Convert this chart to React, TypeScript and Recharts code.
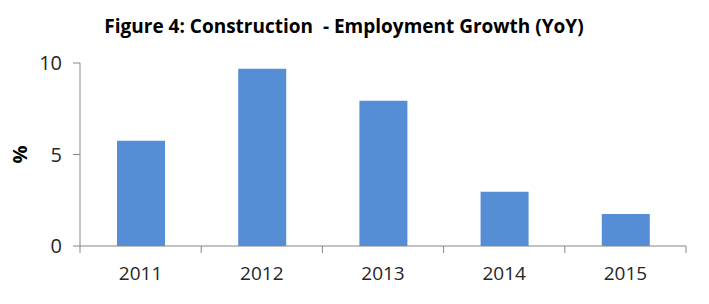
import { BarChart, Bar, XAxis, YAxis } from "recharts";

const years = ["2011", "2012", "2013", "2014", "2015"];
const growth = [5.75, 9.69, 7.94, 2.96, 1.75];
const yTicks = [0, 5, 10];

const data = years.map((year, i) => ({ year, growth: growth[i] }));

const FONT = "'Open Sans', sans-serif";
const AXIS = "#868686";

function YearTick(props: any) {
  const { x, y, payload, index } = props;
  const half = payload && payload.offset ? payload.offset : 60.6;
  return (
    <g>
      <line x1={x - half} y1={y - 8} x2={x - half} y2={y - 1} stroke={AXIS} />
      {index === years.length - 1 && (
        <line x1={x + half} y1={y - 8} x2={x + half} y2={y - 1} stroke={AXIS} />
      )}
      <text
        x={x}
        y={y + 26}
        textAnchor="middle"
        fontFamily={FONT}
        fontSize={19}
        fill="#262626"
      >
        {payload.value}
      </text>
    </g>
  );
}

export default function App() {
  return (
    <div style={{ position: "absolute", left: 0, top: 0, width: 709, height: 304, background: "#fff" }}>
      <div
        style={{
          position: "absolute",
          left: 0,
          width: 688,
          top: 13,
          textAlign: "center",
          fontFamily: FONT,
          fontWeight: 700,
          fontSize: 19,
          lineHeight: "26px",
          color: "#000",
          whiteSpace: "pre",
        }}
      >
        {"Figure 4: Construction  - Employment Growth (YoY)"}
      </div>
      <BarChart
        width={709}
        height={304}
        data={data}
        margin={{ top: 63, right: 23, bottom: 0, left: 0 }}
        barSize={48}
      >
        <XAxis
          dataKey="year"
          height={58}
          stroke={AXIS}
          tickLine={false}
          tick={<YearTick />}
          interval={0}
        />
        <YAxis
          width={80}
          domain={[0, 10]}
          ticks={yTicks}
          stroke={AXIS}
          tickSize={7}
          tickMargin={11}
          tick={{ fontFamily: FONT, fontSize: 20, fill: "#262626" }}
          label={{
            value: "%",
            angle: -90,
            position: "insideLeft",
            offset: 20,
            style: { fontFamily: FONT, fontSize: 20, fontWeight: 700, fill: "#000", textAnchor: "middle" },
          }}
        />
        <Bar dataKey="growth" fill="#558ED5" isAnimationActive={false} />
      </BarChart>
    </div>
  );
}
